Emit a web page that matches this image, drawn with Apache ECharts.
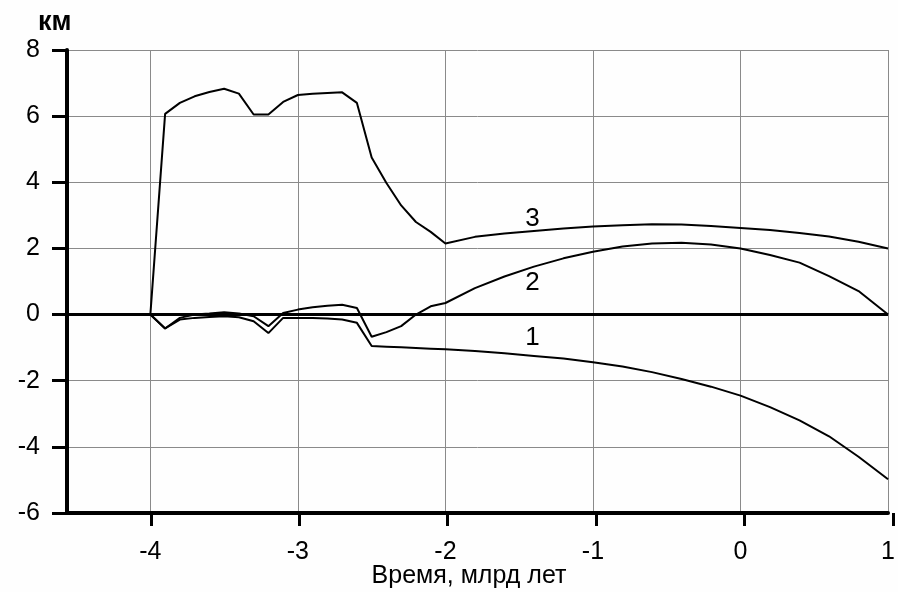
<!DOCTYPE html>
<html>
<head>
<meta charset="utf-8">
<script src="https://cdn.jsdelivr.net/npm/echarts@6/dist/echarts.min.js"></script>
<style>
  html, body { margin: 0; padding: 0; background: #fefefe; }
  #chart { width: 898px; height: 592px; }
</style>
</head>
<body>
<div id="chart"></div>
<script>
// время, млрд лет
var times = [-4, -3.9, -3.8, -3.7, -3.6, -3.5, -3.4, -3.3, -3.2, -3.1, -3.0,
  -2.9, -2.8, -2.7, -2.6, -2.5, -2.4, -2.3, -2.2, -2.1, -2.0,
  -1.8, -1.6, -1.4, -1.2, -1.0, -0.8, -0.6, -0.4, -0.2, 0,
  0.2, 0.4, 0.6, 0.8, 1.0];

// кривая 1 (нижняя)
var curve1 = [0, -0.42, -0.15, -0.1, -0.07, -0.05, -0.08, -0.2, -0.56, -0.1, -0.1,
  -0.1, -0.12, -0.15, -0.25, -0.95, -0.97, -0.99, -1.01, -1.03, -1.05,
  -1.1, -1.17, -1.25, -1.33, -1.44, -1.57, -1.74, -1.95, -2.18, -2.45,
  -2.8, -3.2, -3.68, -4.3, -4.98];

// кривая 2
var curve2 = [0, -0.42, -0.1, 0.0, 0.03, 0.07, 0.03, -0.05, -0.35, 0.05, 0.15,
  0.22, 0.27, 0.3, 0.2, -0.67, -0.53, -0.35, 0.0, 0.25, 0.35,
  0.8, 1.15, 1.45, 1.7, 1.9, 2.06, 2.15, 2.17, 2.12, 2.0,
  1.8, 1.57, 1.16, 0.71, 0];

// кривая 3 (верхняя)
var curve3 = [0, 6.07, 6.4, 6.6, 6.73, 6.83, 6.68, 6.05, 6.05, 6.43, 6.64,
  6.68, 6.7, 6.72, 6.4, 4.75, 3.98, 3.3, 2.8, 2.5, 2.15,
  2.35, 2.45, 2.53, 2.6, 2.66, 2.7, 2.73, 2.72, 2.68, 2.62,
  2.56, 2.47, 2.36, 2.2, 2.0];

var xTicks = [-4, -3, -2, -1, 0, 1];

// номера кривых и их места на графике
var curveNames = ['1', '2', '3'];
var curveLabelAt = [[-1.41, -0.7], [-1.41, 0.96], [-1.41, 2.88]];

var FONT = '"Liberation Sans", Arial, sans-serif';
var X_MIN = -4.565, X_MAX = 1;

var chart = echarts.init(document.getElementById('chart'));

function zip(ys) {
  return times.map(function (t, i) { return [t, ys[i]]; });
}

function lineSeries(name, ys, idx) {
  return {
    name: name,
    type: 'line',
    data: zip(ys),
    symbol: 'none',
    lineStyle: { color: '#000', width: 2 },
    z: 3,
    markPoint: {
      symbol: 'circle',
      symbolSize: 1,
      itemStyle: { color: 'rgba(0,0,0,0)' },
      label: {
        show: true,
        position: 'inside',
        formatter: name,
        color: '#000',
        fontSize: 26,
        fontFamily: FONT
      },
      data: [{ coord: curveLabelAt[idx], value: name }]
    }
  };
}

var series = [
  lineSeries(curveNames[0], curve1, 0),
  lineSeries(curveNames[1], curve2, 1),
  lineSeries(curveNames[2], curve3, 2)
];

// нулевая линия
series[0].markLine = {
  silent: true,
  symbol: 'none',
  label: { show: false },
  lineStyle: { color: '#000', width: 3, type: 'solid' },
  data: [{ yAxis: 0 }]
};

// пустая серия для полоски засечек под осью X
series.push({ type: 'line', xAxisIndex: 1, yAxisIndex: 1, data: [], symbol: 'none' });

chart.setOption({
  backgroundColor: '#fefefe',
  animation: false,
  grid: [
    { left: 67, right: 5, top: 50, bottom: 79 },
    // узкая полоска сразу под осью: её вертикальные линии и есть засечки
    { left: 67, right: 5, top: 513, height: 13 }
  ],
  xAxis: [
    {
      type: 'value',
      min: X_MIN,
      max: X_MAX,
      axisLine: { show: true, onZero: false, lineStyle: { color: '#000', width: 4 } },
      axisTick: { show: false },
      axisLabel: {
        customValues: xTicks,
        color: '#000',
        fontSize: 25,
        fontFamily: FONT,
        margin: 27
      },
      splitLine: { show: true, lineStyle: { color: '#8a8a8a', width: 1 } }
    },
    {
      type: 'value',
      gridIndex: 1,
      min: X_MIN,
      max: X_MAX,
      axisLine: { show: false, onZero: false },
      axisTick: { show: false, customValues: xTicks },
      axisLabel: { show: false, customValues: xTicks },
      splitLine: { show: true, lineStyle: { color: '#000', width: 3 } }
    }
  ],
  yAxis: [
    {
      type: 'value',
      min: -6,
      max: 8,
      interval: 2,
      axisLine: { show: true, onZero: false, lineStyle: { color: '#000', width: 4 } },
      axisTick: { show: true, length: 15, lineStyle: { color: '#000', width: 3 } },
      axisLabel: {
        color: '#000',
        fontSize: 25,
        fontFamily: FONT,
        margin: 27
      },
      splitLine: { show: true, lineStyle: { color: '#8a8a8a', width: 1 } }
    },
    {
      type: 'value',
      gridIndex: 1,
      min: 0,
      max: 1,
      axisLine: { show: false },
      axisTick: { show: false },
      axisLabel: { show: false },
      splitLine: { show: false }
    }
  ],
  graphic: [
    {
      type: 'text',
      style: { text: 'км', x: 38, y: 23, font: 'bold 27px ' + FONT, fill: '#000', textVerticalAlign: 'middle' }
    },
    {
      type: 'text',
      style: { text: 'Время, млрд лет', x: 469, y: 576, font: '25px ' + FONT, fill: '#000', textAlign: 'center', textVerticalAlign: 'middle' }
    }
  ],
  series: series
});
</script>
</body>
</html>
